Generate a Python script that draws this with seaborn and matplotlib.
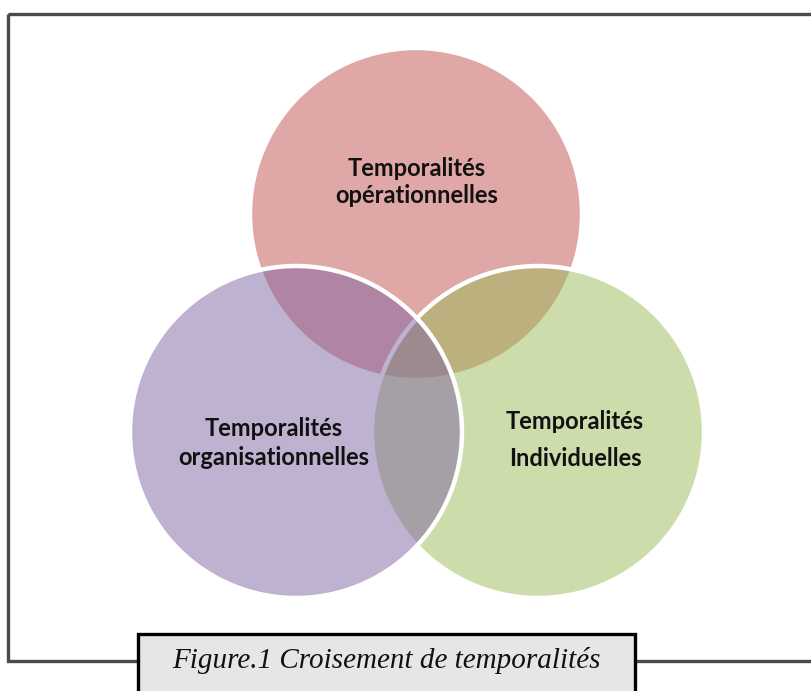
import matplotlib
matplotlib.use("Agg")
import matplotlib.pyplot as plt
from matplotlib.patches import Circle, Rectangle
import matplotlib.colors as mcolors
import seaborn as sns

# ---- data ----
labels = ["Temporalités\nopérationnelles", "Temporalités\nIndividuelles", "Temporalités\norganisationnelles"]
colors = ["#C0504D", "#9BBB59", "#8064A2"]
centers_x = [416, 538, 296]
centers_y = [214, 432, 432]
radius = 166
label_x = [417, 575, 274]
label_y = [182, 440, 443]
caption = "Figure.1 Croisement de temporalités"

sns.set_theme(style="white")
plt.rcParams['font.family'] = ['Lato', 'DejaVu Sans']

W, H = 811, 691
fig = plt.figure(figsize=(W / 100, H / 100), dpi=100)
ax = fig.add_axes([0, 0, 1, 1])
ax.set_xlim(0, W)
ax.set_ylim(H, 0)
ax.axis("off")

# outer frame
ax.add_patch(Rectangle((8, 14), 820, 647, fill=False, edgecolor="#4a4a4a", lw=2.4, zorder=1))

# circles (semi-transparent fill, white outline)
for i, (cx, cy, c) in enumerate(zip(centers_x, centers_y, colors)):
    ax.add_patch(Circle((cx, cy), radius, fc=mcolors.to_rgba(c, 0.5), edgecolor="none", zorder=2 + 2 * i))
    ax.add_patch(Circle((cx, cy), radius, fill=False, edgecolor="white", lw=3.2, zorder=3 + 2 * i))

# labels
spacing = [1.2, 1.75, 1.3]
for x, y, t, ls in zip(label_x, label_y, labels, spacing):
    ax.text(x, y, t, ha="center", va="center", fontsize=17, fontweight="bold", color="#111111",
            linespacing=ls, zorder=20)

# caption box
ax.add_patch(Rectangle((138, 634), 497, 70, facecolor="#e6e6e6", edgecolor="black", lw=2.4, zorder=21))
ax.text(386, 661, caption, ha="center", va="center", fontsize=21, fontstyle="italic",
        family=["Liberation Serif", "DejaVu Serif"], color="#111111", zorder=22)

fig.savefig("out.png", dpi=100, facecolor="white")
